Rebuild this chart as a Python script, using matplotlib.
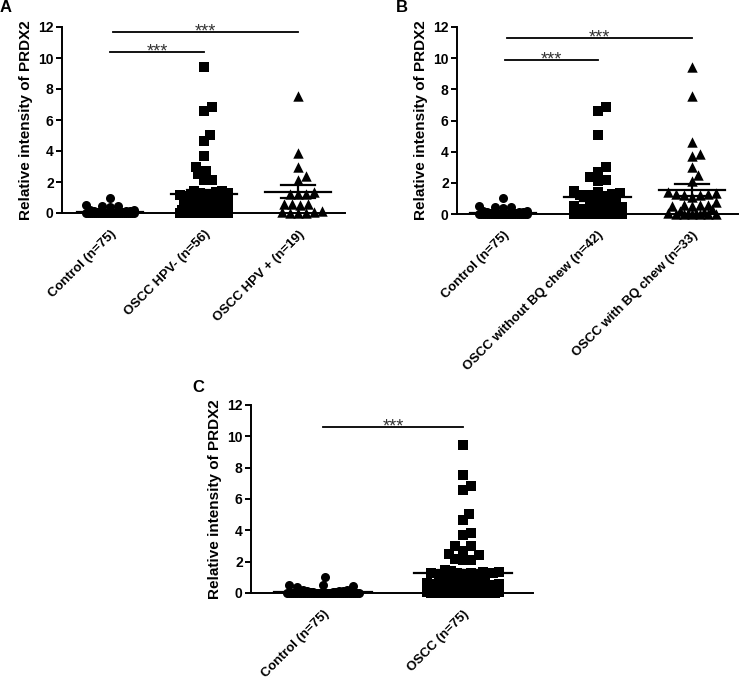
import numpy as np
import matplotlib
matplotlib.use('Agg')
import matplotlib.pyplot as plt

plt.rcParams['font.family'] = ['Liberation Sans', 'DejaVu Sans']

# relative intensity of PRDX2
control = [1.0, 0.5, 0.48, 0.45, 0.4, 0.2, 0.18, 0.15, 0.12, 0.1,
           0.08, 0.06, 0.05, 0.05, 0.04, 0.04, 0.03, 0.03, 0.02, 0.02,
           0.02, 0.01, 0.01, 0.01, 0.01,
           0.0, 0.0, 0.0, 0.0, 0.0, 0.0, 0.0, 0.0, 0.0, 0.0,
           0.0, 0.0, 0.0, 0.0, 0.0, 0.0, 0.0, 0.0, 0.0, 0.0,
           0.0, 0.0, 0.0, 0.0, 0.0, 0.0, 0.0, 0.0, 0.0, 0.0,
           0.0, 0.0, 0.0, 0.0, 0.0, 0.0, 0.0, 0.0, 0.0, 0.0,
           0.0, 0.0, 0.0, 0.0, 0.0, 0.0, 0.0, 0.0, 0.0, 0.0]

hpv_neg = [9.45, 6.85, 6.6, 5.05, 4.65, 3.7, 3.0, 2.7, 2.5, 2.1, 2.1,
           1.45, 1.4, 1.35, 1.3, 1.3, 1.25, 1.15, 1.1, 1.0,
           0.85, 0.8, 0.7, 0.65, 0.6, 0.5, 0.45, 0.4, 0.35, 0.3, 0.3,
           0.2, 0.18, 0.15, 0.12, 0.1, 0.1, 0.08, 0.08, 0.06, 0.05,
           0.05, 0.04, 0.04, 0.03, 0.03, 0.02, 0.02, 0.02, 0.01, 0.01,
           0.01, 0.0, 0.0, 0.0, 0.0]

hpv_pos = [7.55, 3.85, 3.0, 2.4, 2.15, 1.35, 1.25, 1.2, 1.2,
           0.6, 0.55, 0.55, 0.5, 0.1, 0.05, 0.05, 0.0, 0.0, 0.0]

no_bq = [6.85, 6.6, 5.05, 3.0, 2.7, 2.4, 2.15, 2.1,
         1.45, 1.4, 1.35, 1.3, 1.25, 1.2, 1.15, 1.0,
         0.85, 0.7, 0.6, 0.55, 0.5, 0.45, 0.35, 0.3, 0.2, 0.15,
         0.12, 0.1, 0.08, 0.06, 0.05, 0.05, 0.04, 0.03, 0.02, 0.02,
         0.01, 0.01, 0.0, 0.0, 0.0, 0.0]

with_bq = [9.45, 7.55, 4.65, 3.85, 3.7, 3.0, 2.5, 2.1,
           1.4, 1.35, 1.3, 1.3, 1.25, 1.2, 1.1,
           0.8, 0.6, 0.55, 0.55, 0.5, 0.5, 0.3, 0.18, 0.1, 0.08,
           0.05, 0.04, 0.03, 0.02, 0.01, 0.0, 0.0, 0.0]

oscc_all = hpv_neg + hpv_pos

labels_a = ['Control (n=75)', 'OSCC HPV- (n=56)', 'OSCC HPV + (n=19)']
labels_b = ['Control (n=75)', 'OSCC without BQ chew (n=42)', 'OSCC with BQ chew (n=33)']
labels_c = ['Control (n=75)', 'OSCC (n=75)']

fig = plt.figure(figsize=(7.4, 6.81), dpi=100)
W, H = 740, 681


def swarm_x(ax, vals, center, d_px, half_w):
    # simple capped beeswarm in pixel space
    pos = ax.get_position()
    x0, x1 = ax.get_xlim()
    y0, y1 = ax.get_ylim()
    px_x = pos.width * W / (x1 - x0)
    px_y = pos.height * H / (y1 - y0)
    hw = half_w * px_x
    step = 2.0
    cands = [0.0]
    k = 1
    while k * step <= hw:
        cands += [k * step, -k * step]
        k += 1
    vals = np.asarray(vals, dtype=float)
    xs = np.zeros(len(vals))
    placed = []
    for i in np.argsort(vals, kind='stable'):
        y = vals[i] * px_y
        best, best_d = 0.0, -1
        for c in cands:
            if placed:
                p = np.array(placed)
                md = np.min(np.hypot(p[:, 0] - c, p[:, 1] - y))
            else:
                md = np.inf
            if md >= d_px:
                best = c
                break
            if md > best_d + 1e-9:
                best, best_d = c, md
        placed.append((best, y))
        xs[i] = center + best / px_x
    return xs


def panel(rect, groups, markers, msizes, labels, xlim, brackets):
    ax = fig.add_axes(rect)
    ax.set_xlim(*xlim)
    ax.set_ylim(0, 12)
    for i, (vals, m, ms) in enumerate(zip(groups, markers, msizes)):
        xs = swarm_x(ax, vals, i, 8.0, 0.27)
        ax.scatter(xs, vals, marker=m, s=ms ** 2, color='black',
                   linewidths=0, clip_on=False, zorder=3)
        v = np.asarray(vals)
        mean = v.mean()
        sem = v.std(ddof=1) / np.sqrt(len(v))
        ax.plot([i - 0.35, i + 0.35], [mean, mean], color='black', lw=1.6,
                zorder=4, clip_on=False)
        ax.plot([i, i], [mean - sem, mean + sem], color='black', lw=1.6, zorder=4)
        for yy in (mean - sem, mean + sem):
            ax.plot([i - 0.18, i + 0.18], [yy, yy], color='black', lw=1.6, zorder=4)
    for xa, xb, yb in brackets:
        ax.plot([xa, xb], [yb, yb], color='black', lw=1.3, clip_on=False)
        ax.text((xa + xb) / 2, yb - 0.3, '***', ha='center', va='baseline',
                fontsize=13, color='#333333')
    for s in ('top', 'right'):
        ax.spines[s].set_visible(False)
    for s in ('left', 'bottom'):
        ax.spines[s].set_linewidth(1.4)
    ax.set_yticks(range(0, 13, 2))
    ax.set_xticks(range(len(groups)))
    ax.set_xticklabels(labels, rotation=45, ha='right', va='top',
                       rotation_mode='anchor', fontweight='bold', fontsize=9.5)
    ax.tick_params(axis='x', length=0, pad=11)
    ax.tick_params(axis='y', length=4, width=1.4, pad=2, labelsize=10)
    for t in ax.get_yticklabels():
        t.set_fontweight('bold')
    ax.set_ylabel('Relative intensity of PRDX2', fontweight='bold',
                  fontsize=11, labelpad=4)
    return ax


panel([62 / W, 1 - 213 / H, 283 / W, 186 / H],
      [control, hpv_neg, hpv_pos], ['o', 's', '^'], [6.5, 6.5, 7.5],
      labels_a, (-0.51, 2.5), [(0, 1, 10.4), (0.03, 2, 11.7)])

panel([457 / W, 1 - 214 / H, 281 / W, 187 / H],
      [control, no_bq, with_bq], ['o', 's', '^'], [6.5, 6.5, 7.5],
      labels_b, (-0.487, 2.487), [(0.02, 1, 9.9), (0.04, 2, 11.3)])

panel([251 / W, 1 - 593 / H, 282 / W, 188 / H],
      [control, oscc_all], ['o', 's'], [6.5, 6.5],
      labels_c, (-0.514, 1.5), [(0, 1, 10.6)])

fig.text(6 / W, 1 - 8 / H, 'A', fontsize=12, fontweight='bold', ha='center', va='center')
fig.text(402 / W, 1 - 8 / H, 'B', fontsize=12, fontweight='bold', ha='center', va='center')
fig.text(198 / W, 1 - 388 / H, 'C', fontsize=12, fontweight='bold', ha='center', va='center')

fig.savefig('out.png', dpi=100)
